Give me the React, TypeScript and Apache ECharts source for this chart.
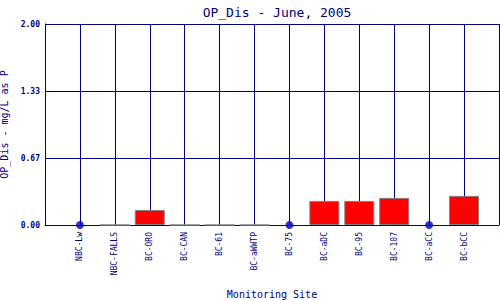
import React, { useEffect, useRef } from "react";
import * as echarts from "echarts";

const categories = ["NBC-Lw", "NBC-FALLS", "BC-ORO", "BC-CAN", "BC-61", "BC-aWWTP", "BC-75", "BC-aDC", "BC-95", "BC-107", "BC-aCC", "BC-bCC"];
const values: (number | null)[] = [null, 0, 0.15, 0, 0, 0, null, 0.24, 0.24, 0.27, null, 0.29];
const yTicks = [0, 2 / 3, 4 / 3, 2];

const NAVY = "#000080";
const MONO = "'DejaVu Sans Mono', 'Liberation Mono', monospace";

export default function App() {
  const ref = useRef<HTMLDivElement>(null);
  useEffect(() => {
    if (!ref.current) return;
    const chart = echarts.init(ref.current, null, { renderer: "svg" });
    const barData = values
      .map((v, i) => (v === null ? null : [i + 1, v]))
      .filter((d) => d !== null);
    const dotData = values
      .map((v, i) => (v === null ? [i + 1, 0] : null))
      .filter((d) => d !== null);
    chart.setOption({
      animation: false,
      backgroundColor: "#ffffff",
      title: {
        text: "OP_Dis - June, 2005",
        left: 272,
        textAlign: "center",
        top: 1,
        textStyle: { fontFamily: MONO, fontSize: 13, fontWeight: "normal", color: NAVY },
      },
      grid: { left: 45, right: 1, top: 24, bottom: 75, containLabel: false, outerBoundsMode: "none" },
      xAxis: {
        type: "value",
        min: 0,
        max: 13,
        interval: 1,
        name: "Monitoring Site",
        nameLocation: "middle",
        nameGap: 64,
        nameTextStyle: { fontFamily: MONO, fontSize: 10, color: NAVY },
        axisLine: { show: true, lineStyle: { color: NAVY, width: 1 } },
        axisTick: { show: false },
        splitLine: { show: true, lineStyle: { color: NAVY, width: 1 } },
        axisLabel: {
          rotate: 90,
          margin: 7,
          fontFamily: MONO,
          fontSize: 8,
          color: NAVY,
          formatter: (v: number) => (v >= 1 && v <= 12 ? categories[v - 1] : ""),
        },
      },
      yAxis: {
        type: "value",
        min: 0,
        max: 2,
        interval: 2 / 3,
        name: "OP_Dis - mg/L as P",
        nameLocation: "middle",
        nameGap: 32,
        nameTextStyle: { fontFamily: MONO, fontSize: 10, color: NAVY },
        axisLine: { show: true, lineStyle: { color: NAVY, width: 1 } },
        axisTick: { show: false },
        splitLine: { show: true, lineStyle: { color: NAVY, width: 1 } },
        axisLabel: {
          margin: 5,
          fontFamily: MONO,
          fontSize: 8,
          fontWeight: "bold",
          color: NAVY,
          customValues: yTicks,
          formatter: (v: number) => v.toFixed(2),
        },
      },
      series: [
        {
          type: "bar",
          data: barData,
          barWidth: 30,
          itemStyle: { color: "#ff0000", borderColor: "#808080", borderWidth: 1 },
        },
        {
          type: "scatter",
          data: dotData,
          symbol: "circle",
          symbolSize: 8,
          itemStyle: { color: "#0000c0" },
          z: 5,
        },
      ],
    });
    return () => chart.dispose();
  }, []);
  return <div ref={ref} style={{ width: 500, height: 300, position: "absolute", left: 0, top: 0 }} />;
}
